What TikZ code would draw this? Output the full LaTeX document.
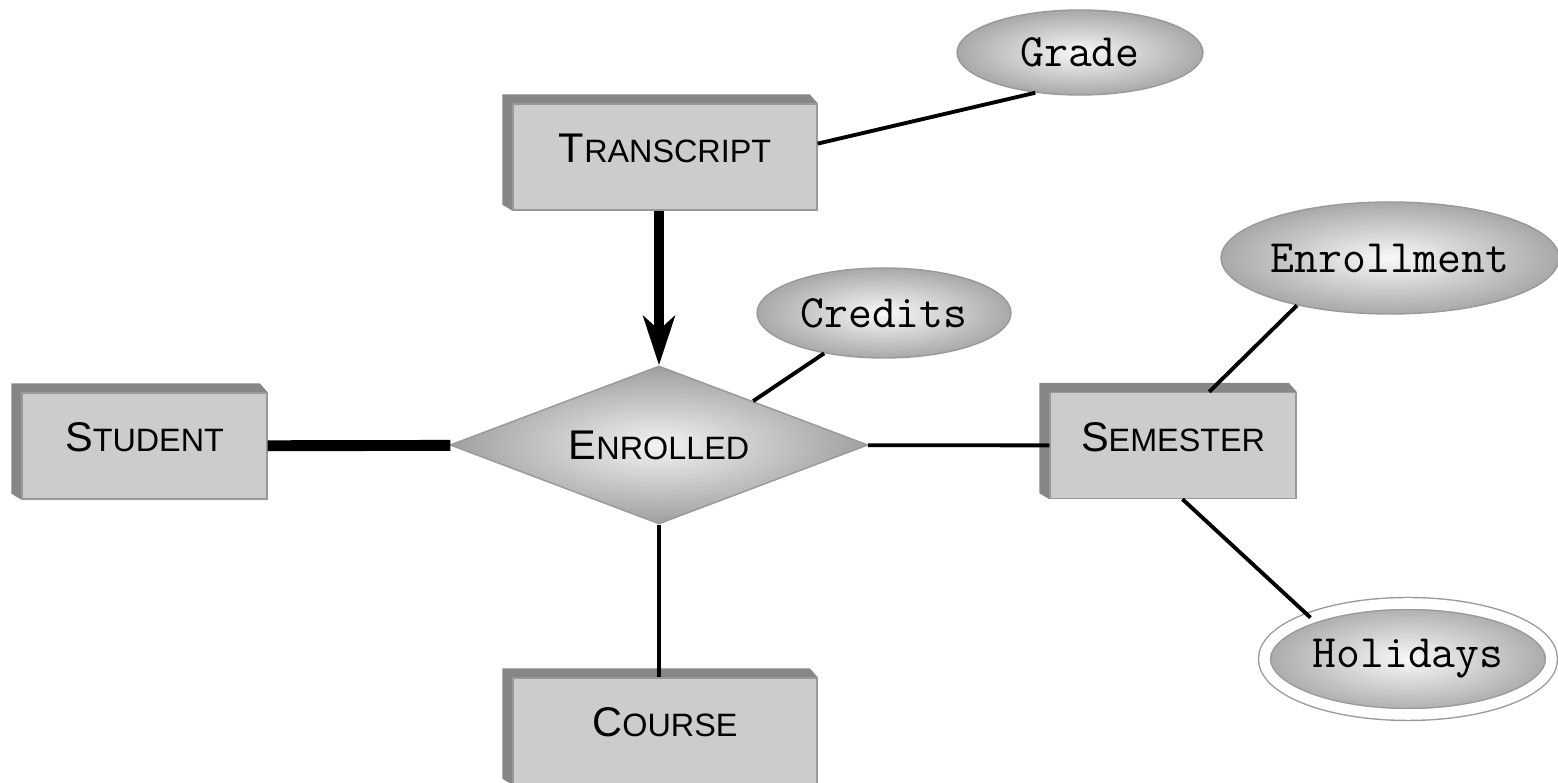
\documentclass[tikz,border=0pt]{standalone}
\usepackage{fontspec}
\setsansfont{Liberation Sans}
\usetikzlibrary{shapes.geometric,arrows.meta,backgrounds}

\newcommand{\smcaps}[2]{{\fontsize{11.8}{13}\selectfont #1}{\fontsize{9.2}{10}\selectfont #2}}

\begin{document}
\begin{tikzpicture}[
  ent/.style={draw=gray!80, fill=gray!40, font=\sffamily, minimum width=3.04cm, minimum height=1.06cm, inner sep=0pt, text height=0.3cm, text depth=0.18cm},
  bevel/.style={fill=gray!95},
  assoc/.style={diamond, draw=gray!80, inner color=gray!10, outer color=gray!75, font=\sffamily, minimum width=4.18cm, minimum height=1.58cm, aspect=2.6, inner sep=0pt},
  attr/.style={ellipse, draw=gray!80, inner color=gray!5, outer color=gray!68, font=\ttfamily\fontsize{13.2}{15}\selectfont, inner sep=0pt},
  multi/.style={attr, double=white, double distance=3pt},
  link/.style={line width=1.1pt},
  heavy/.style={line width=3.1pt}
]
\useasboundingbox (0,0) rectangle (15.58,7.83);

% Entities
\node[ent] (transcript) at (6.65,6.26)  {\smcaps{T}{RANSCRIPT}};
\node[ent, minimum width=2.45cm] (student)  at (1.445,3.37) {\smcaps{S}{TUDENT}};
\node[ent, minimum width=2.46cm] (semester) at (11.73,3.375) {\smcaps{S}{EMESTER}};
\node[ent] (course)     at (6.65,0.52)  {\smcaps{C}{OURSE}};

% Relationship
\node[assoc] (enrolled) at (6.59,3.38) {\smcaps{E}{NROLLED}};

% Attributes
\node[attr, minimum width=2.46cm, minimum height=0.85cm]  (grade)      at (10.80,7.305) {Grade};
\node[attr, minimum width=2.54cm, minimum height=0.90cm]  (credits)    at (8.84,4.70)   {Credits};
\node[attr, minimum width=3.30cm, minimum height=1.12cm]  (enrollment) at (13.90,5.25)  {Enrollment};
\node[multi, minimum width=2.87cm, minimum height=1.11cm] (holidays)   at (14.08,1.24)  {Holidays};

% Bevels
\begin{scope}[on background layer]
\foreach \e in {transcript,student,semester,course}
  \fill[bevel] (\e.south west) -- ++(-0.1,0.06) -- ([shift={(-0.1,0.09)}]\e.north west)
    -- ([shift={(-0.08,0.09)}]\e.north east) -- (\e.north east) -- cycle;
\end{scope}

% Connectors
\draw[heavy] (student) -- (enrolled);
\draw[heavy, -{Stealth[length=14pt, width=9pt, inset=4pt]}] (enrolled.north |- transcript.south) -- (enrolled.north);
\draw[link] (enrolled) -- (semester);
\draw[link] (enrolled.south) -- (enrolled.south |- course.north);
\draw[link] (enrolled.25) -- (credits.214);
\draw[link] (transcript.5) -- (grade.222);
\draw[link] (semester.56) -- (enrollment.207);
\draw[link] (semester.280) -- (holidays.157);
\end{tikzpicture}
\end{document}
